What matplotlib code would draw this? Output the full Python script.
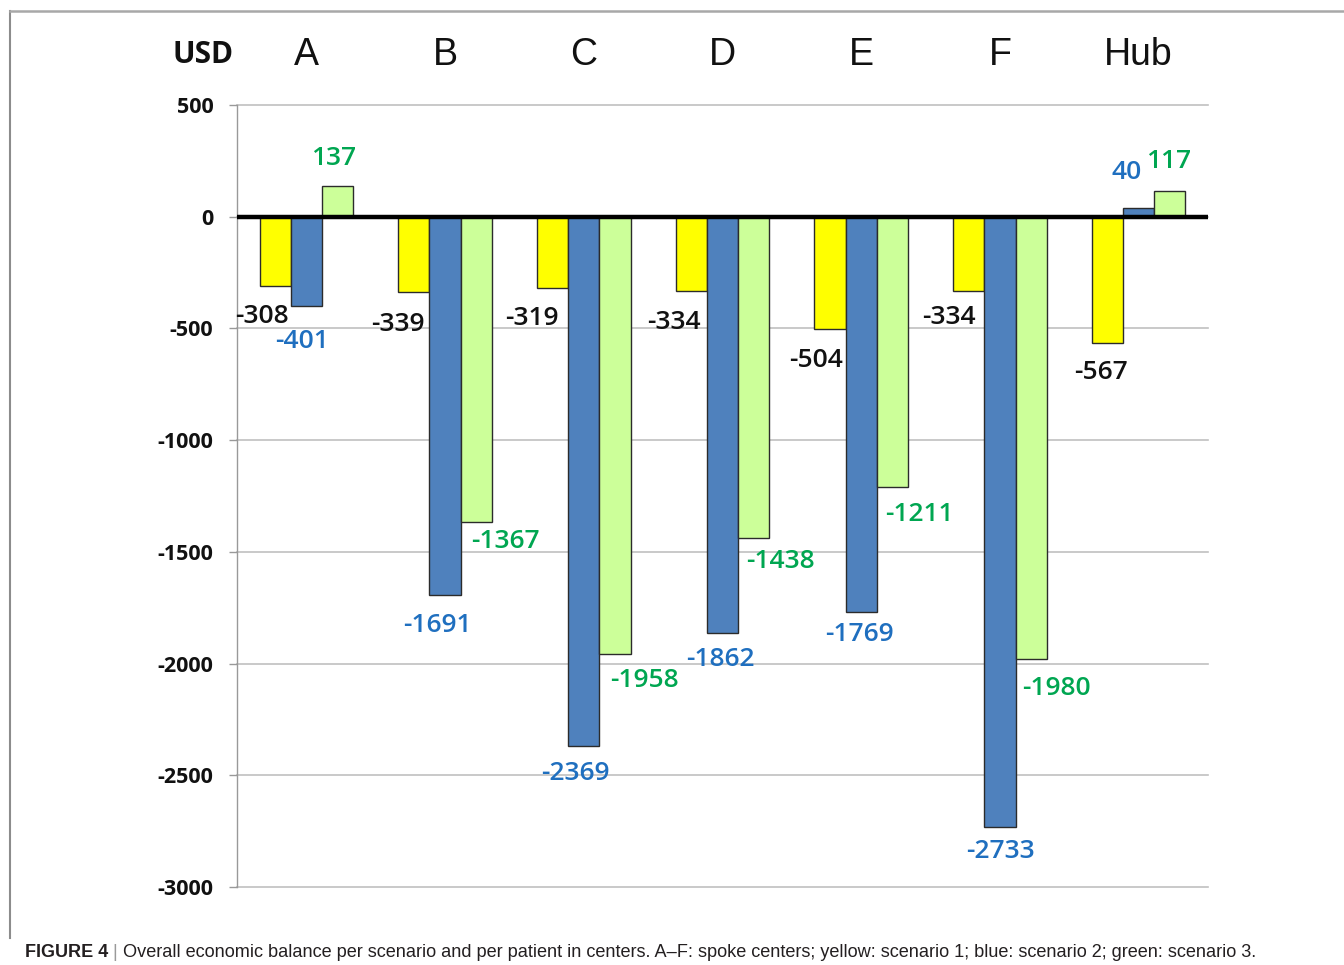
import matplotlib
matplotlib.use("Agg")
import matplotlib.pyplot as plt
import numpy as np

# Centers and scenario balances (USD per patient)
centers = ["A", "B", "C", "D", "E", "F", "Hub"]
scenario1 = [-308, -339, -319, -334, -504, -334, -567]
scenario2 = [-401, -1691, -2369, -1862, -1769, -2733, 40]
scenario3 = [137, -1367, -1958, -1438, -1211, -1980, 117]
y_ticks = [500, 0, -500, -1000, -1500, -2000, -2500, -3000]

bar_fill = ["#FFFF00", "#4F81BD", "#CCFF99"]
label_col = ["#111111", "#1F6FBF", "#00A651"]

# label nudges (pixels from bar end: right, down)
nudges = [
    [(-13, 31), (-16, 32), (-21, 31), (-17, 31), (-14, 31), (-20, 26), (-6, 29)],
    [(-4, 35), (-8, 31), (-8, 27), (-2, 27), (-2, 23), (1, 24), (-12, -35)],
    [(-4, -28), (29, 19), (29, 26), (27, 23), (27, 27), (25, 29), (-1, -29)],
]

W, H = 1344, 965
fig = plt.figure(figsize=(W / 100, H / 100), dpi=100)
ax = fig.add_axes([237 / W, 1 - 887 / H, (1208 - 237) / W, (887 - 105) / H])

x = np.arange(len(centers))
bw = 0.225
series = [scenario1, scenario2, scenario3]
for k, vals in enumerate(series):
    pos = x + (k - 1) * bw
    ax.bar(pos, vals, width=bw, color=bar_fill[k], edgecolor="#2b2b2b",
           linewidth=1.0, zorder=3)
    for xi, v, (dx, dy) in zip(pos, vals, nudges[k]):
        ax.annotate(str(v), xy=(xi, v), xytext=(dx, -dy),
                    textcoords="offset pixels", ha="center", va="center",
                    fontsize=19, fontfamily="Open Sans", fontweight="semibold",
                    color=label_col[k], zorder=5)

ax.set_xlim(-0.5, len(centers) - 0.5)
ax.set_ylim(-3000, 500)
ax.set_yticks(y_ticks)
ax.set_yticklabels([str(t) for t in y_ticks], fontfamily="Open Sans",
                   fontweight="bold", fontsize=15.5, color="#111111")
ax.tick_params(axis="y", direction="out", length=6, width=1, color="#999999", pad=11)
ax.grid(axis="y", color="#C0C0C0", linewidth=1.2, zorder=0)
for gl in ax.get_ygridlines():
    gl.set_clip_on(False)
ax.axhline(0, color="black", linewidth=3.2, zorder=4)

# center names along the top
ax.xaxis.tick_top()
ax.set_xticks(x)
ax.set_xticklabels(centers, fontfamily="Liberation Sans", fontsize=27, color="#111111")
ax.tick_params(axis="x", length=0, pad=23)

for s in ["top", "right", "bottom"]:
    ax.spines[s].set_visible(False)
ax.spines["left"].set_color("#999999")
ax.spines["left"].set_linewidth(1.0)

fig.text(203 / W, 1 - 55 / H, "USD", ha="center", va="center",
         fontfamily="Open Sans", fontweight="bold", fontsize=21.5, color="#111111")

# panel frame (left and top edges)
fig.add_artist(plt.Line2D([9.5 / W, 9.5 / W], [1 - 938 / H, 1 - 11 / H],
                          transform=fig.transFigure, color="#8c8c8c", linewidth=1.5))
fig.add_artist(plt.Line2D([9.5 / W, 1.0], [1 - 11 / H, 1 - 11 / H],
                          transform=fig.transFigure, color="#a8a8a8", linewidth=1.8))

# caption
cap_font = ["Liberation Sans Narrow", "Liberation Sans"]
t1 = fig.text(25 / W, 1 - 957 / H, "FIGURE 4", fontfamily=cap_font, fontweight="bold",
              fontsize=13, color="#231F20", ha="left", va="baseline")
t2 = plt.annotate(" | ", xy=(1, 0), xycoords=t1, xytext=(0, 0), textcoords="offset pixels",
                  fontfamily=cap_font, fontsize=13, color="#9a9a9a", ha="left", va="bottom",
                  annotation_clip=False)
plt.annotate("Overall economic balance per scenario and per patient in centers. "
             "A\u2013F: spoke centers; yellow: scenario 1; blue: scenario 2; green: scenario 3.",
             xy=(1, 0), xycoords=t2, fontfamily=cap_font, fontsize=13.1, color="#231F20",
             ha="left", va="bottom", annotation_clip=False)

fig.savefig("out.png", dpi=100, facecolor="white")
